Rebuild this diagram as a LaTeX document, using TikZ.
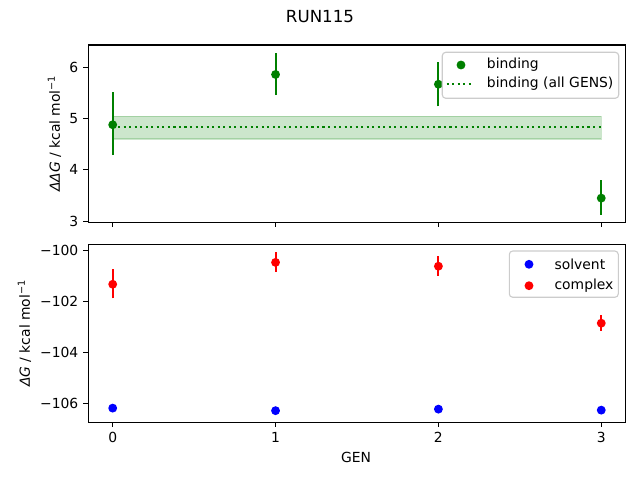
\documentclass[tikz,border=0pt]{standalone}
\usepackage{fontspec}
\setmainfont{DejaVu Sans}
\definecolor{mplgreen}{HTML}{008000}
\definecolor{mplred}{HTML}{FF0000}
\definecolor{mplblue}{HTML}{0000FF}
\definecolor{bandfill}{RGB}{204,230,204}
\definecolor{frameedge}{HTML}{CCCCCC}
\begin{document}
\begin{tikzpicture}[x=0.72pt,y=-0.72pt,
  declare function={gx(\g)=112.7+162.85*\g; ty(\v)=118.6-51.3*(\v-5); by(\v)=250.7+(-100-\v)*25.43;},
  spine/.style={line width=0.8pt,black},
  tickmark/.style={line width=0.8pt,black},
  ticklab/.style={font=\fontsize{10}{12}\selectfont,inner sep=0pt},
  errbar/.style={line width=1.5pt},
  dotmark/.style={circle,inner sep=0pt,minimum size=6.4pt},
  legframe/.style={draw=frameedge,line width=0.8pt,fill=white,fill opacity=0.8,draw opacity=1,rounded corners=2.5pt},
  legtext/.style={font=\fontsize{10}{12}\selectfont,anchor=west,inner sep=0pt},
  axlabel/.style={font=\fontsize{10}{12}\selectfont,inner sep=0pt}]
\useasboundingbox (0,0) rectangle (640,480);
% title
\node[font=\fontsize{12}{14}\selectfont,inner sep=0pt] (title) at (320,17) {RUN115};
% ---------------- top axes ----------------
\fill[bandfill] ({gx(0)},{ty(5.045)}) rectangle ({gx(3)},{ty(4.60)});
\draw[mplgreen,opacity=0.2,line width=1pt] ({gx(0)},{ty(5.045)}) rectangle ({gx(3)},{ty(4.60)});
\draw[mplgreen,line width=1.5pt,dash pattern=on 1.5pt off 2.475pt] ({gx(0)},{ty(4.83)}) -- ({gx(3)},{ty(4.83)});
% error bars
\foreach \g/\v/\lo/\hi [count=\i] in {0/4.88/4.29/5.51, 1/5.86/5.46/6.27, 2/5.67/5.24/6.10, 3/3.45/3.13/3.80}{
  \draw[errbar,mplgreen] ({gx(\g)},{ty(\lo)}) -- ({gx(\g)},{ty(\hi)});
  \node[dotmark,fill=mplgreen] (tb\i) at ({gx(\g)},{ty(\v)}) {};
}
% spines
\draw[spine] (88.3,45) rectangle (625.7,222.3);
% ticks
\foreach \g in {0,1,2,3}{
  \draw[tickmark] ({gx(\g)},222.3) -- ({gx(\g)},227.2);
}
\foreach \v in {3,4,5,6}{
  \draw[tickmark] (88.3,{ty(\v)}) -- (83.4,{ty(\v)});
  \node[ticklab,anchor=east] (ty\v) at (78.6,{ty(\v)}) {\v};
}
\node[axlabel,rotate=90] (ylabtop) at (54.5,133.6) {\textit{ΔΔG} / kcal mol\textsuperscript{−1}};
% legend top
\draw[legframe] (442.3,52.3) rectangle (618.7,98.3);
\node[dotmark,fill=mplgreen] (lg1) at (461,65) {};
\coordinate (lgl1) at (446.7,84);
\coordinate (lgl2) at (474.3,84);
\draw[mplgreen,line width=1.5pt,dash pattern=on 1.5pt off 2.475pt] (lgl1) -- (lgl2);
\node[legtext] (lt1) at (486.7,65) {binding};
\node[legtext] (lt2) at (486.7,84) {binding (all GENS)};
% ---------------- bottom axes ----------------
\foreach \g/\v/\lo/\hi [count=\i] in {0/-101.32/-101.87/-100.73, 1/-100.46/-100.82/-100.06, 2/-100.61/-100.98/-100.21, 3/-102.85/-103.14/-102.54}{
  \draw[errbar,mplred] ({gx(\g)},{by(\lo)}) -- ({gx(\g)},{by(\hi)});
}
\foreach \g/\v [count=\i] in {0/-106.19, 1/-106.29, 2/-106.23, 3/-106.27}{
  \node[dotmark,fill=mplblue] (sb\i) at ({gx(\g)},{by(\v)}) {};
}
\foreach \g/\v [count=\i] in {0/-101.32, 1/-100.46, 2/-100.61, 3/-102.85}{
  \node[dotmark,fill=mplred] (cb\i) at ({gx(\g)},{by(\v)}) {};
}
\draw[spine] (88.3,244.3) rectangle (625.7,422.3);
\foreach \g in {0,1,2,3}{
  \draw[tickmark] ({gx(\g)},422.3) -- ({gx(\g)},427.2);
  \node[ticklab] (tx\g) at ({gx(\g)},437.3) {\g};
}
\foreach \v/\t in {-100/−100,-102/−102,-104/−104,-106/−106}{
  \draw[tickmark] (88.3,{by(\v)}) -- (83.4,{by(\v)});
  \node[ticklab,anchor=east] (by\v) at (78.6,{by(\v)}) {\t};
}
\node[axlabel,rotate=90] (ylabbot) at (24.5,333.3) {\textit{ΔG} / kcal mol\textsuperscript{−1}};
\node[axlabel] (xlab) at (356,457.7) {GEN};
% legend bottom
\draw[legframe] (509.3,251) rectangle (618.3,297.3);
\node[dotmark,fill=mplblue] (lb1) at (529,264.3) {};
\node[dotmark,fill=mplred] (lb2) at (529,285.7) {};
\node[legtext] (lbt1) at (554.3,264.3) {solvent};
\node[legtext] (lbt2) at (554.3,285.7) {complex};
\end{tikzpicture}
\end{document}
